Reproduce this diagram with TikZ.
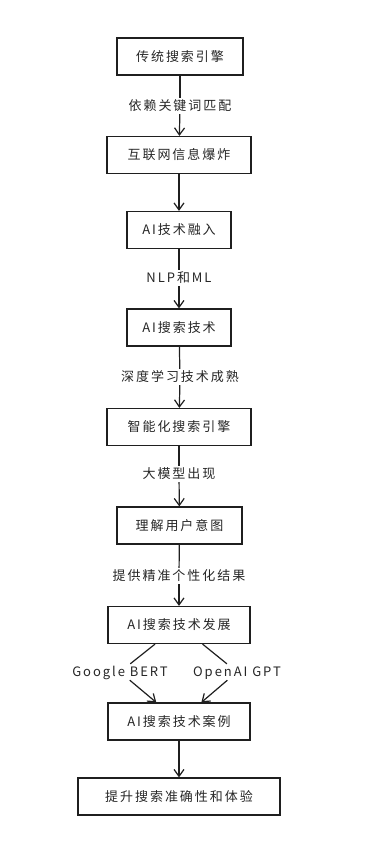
\documentclass[tikz,border=0pt]{standalone}
\usepackage{fontspec}
\setmainfont{Noto Sans CJK SC}[LetterSpace=15]
\usetikzlibrary{arrows.meta}

\begin{document}
\begin{tikzpicture}[x=1pt,y=-1pt,
    box/.style={draw=black!88,line width=1.2pt,minimum height=37pt,inner xsep=0pt,
        font=\fontsize{13}{15}\selectfont,text=black!85},
    lbl/.style={font=\fontsize{13}{15}\selectfont,text=black!85,inner sep=2pt,
        text height=10pt,text depth=2pt},
    linie/.style={line width=1.2pt,draw=black!88},
    pfeil/.style={linie,-{Straight Barb[length=7pt,width=10pt,line width=1.2pt]}}]

    % Rahmen
    \useasboundingbox (0,0) rectangle (379,849);

    % Kaesten
    \node[box,minimum width=126pt] (trad)  at (180,56.5)  {传统搜索引擎};
    \node[box,minimum width=144pt] (inet)  at (179,155)   {互联网信息爆炸};
    \node[box,minimum width=104pt] (ki)    at (179,230)   {AI技术融入};
    \node[box,minimum width=104pt] (such)  at (179,327.5) {AI搜索技术};
    \node[box,minimum width=144pt] (smart) at (179,427)   {智能化搜索引擎};
    \node[box,minimum width=125pt] (absi)  at (179.5,525.5) {理解用户意图};
    \node[box,minimum width=142pt] (entw)  at (179,625)   {AI搜索技术发展};
    \node[box,minimum width=142pt] (fall)  at (179,721.5) {AI搜索技术案例};
    \node[box,minimum width=202pt] (ziel)  at (179,796.5) {提升搜索准确性和体验};

    % Beschriftungen
    \node[lbl] (wort) at (180,106) {依赖关键词匹配};
    \node[lbl] (nlp)  at (179,278) {NLP和ML};
    \node[lbl] (tief) at (180,377) {深度学习技术成熟};
    \node[lbl] (llm)  at (179,474) {大模型出现};
    \node[lbl] (pers) at (179,576) {提供精准个性化结果};
    \node[lbl] (bert) at (120,672) {Google BERT};
    \node[lbl] (gpt)  at (237,672) {OpenAI GPT};

    % Verbindungen
    \foreach \a/\l/\b in {trad/wort/inet, ki/nlp/such, such/tief/smart, smart/llm/absi,
            absi/pers/entw, entw/bert/fall, entw/gpt/fall} {
            \draw[linie] (\a) -- (\l);
            \draw[pfeil] (\l) -- (\b);
        }
    \foreach \a/\b in {inet/ki, fall/ziel} {
            \draw[pfeil] (\a) -- (\b);
        }

\end{tikzpicture}
\end{document}
